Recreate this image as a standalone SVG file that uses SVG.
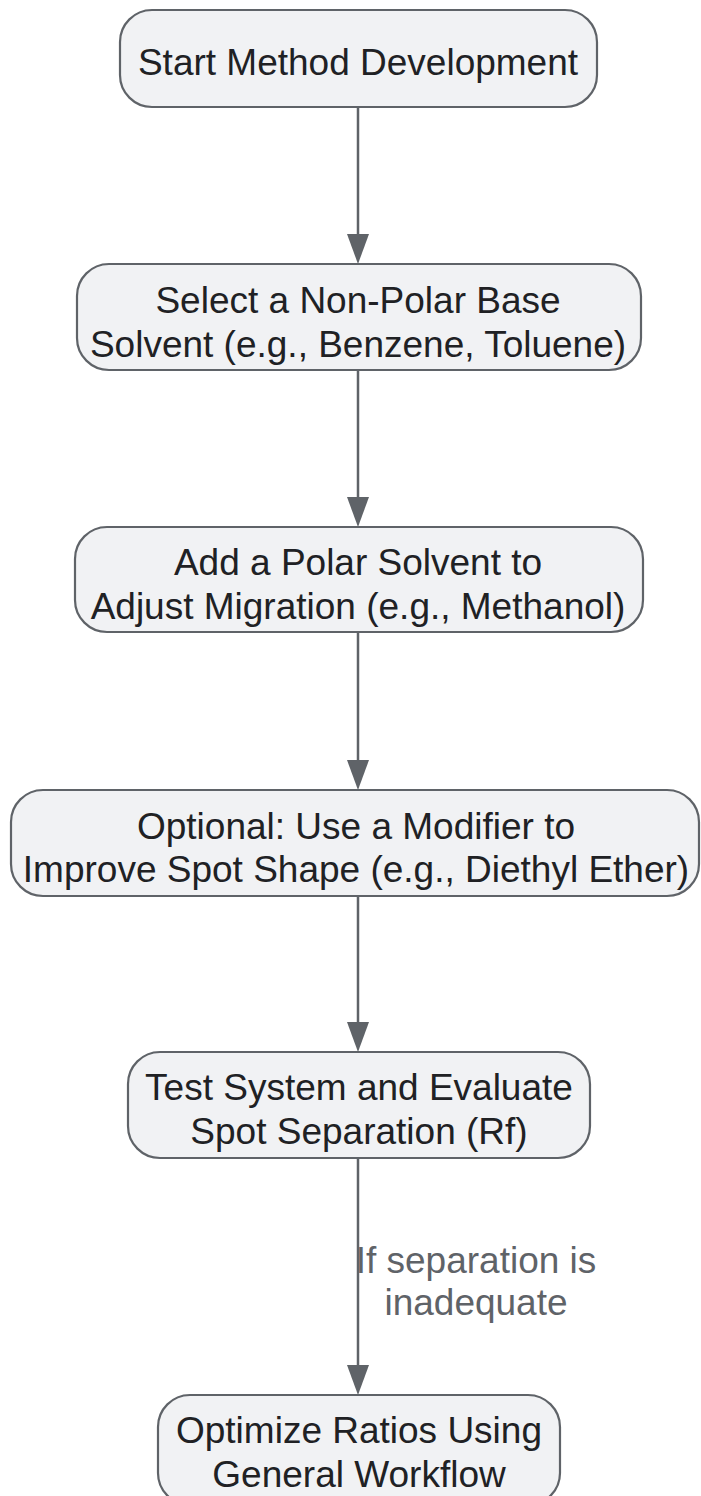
<svg xmlns="http://www.w3.org/2000/svg" width="701" height="1496" viewBox="0 0 701 1496">
<style>
.node rect{fill:#f1f2f4;stroke:#5f6368;stroke-width:2.2}
.node text{font-family:"Liberation Sans",Arial,sans-serif;font-size:37px;fill:#202124;text-anchor:middle}
.edge{stroke:#5f6368;stroke-width:2.5;fill:none}
.elabel{font-family:"Liberation Sans",Arial,sans-serif;font-size:37px;fill:#5f6368;text-anchor:middle}
</style>
<defs>
<marker id="arrow" viewBox="0 0 30 22" refX="0" refY="11" markerWidth="30" markerHeight="22" markerUnits="userSpaceOnUse" orient="auto">
<path d="M0,0 L30,11 L0,22 z" fill="#5f6368"/>
</marker>
</defs>
<g id="connectors">
<line class="edge" x1="358" y1="107" x2="358" y2="234" marker-end="url(#arrow)"/>
<line class="edge" x1="358" y1="370" x2="358" y2="497" marker-end="url(#arrow)"/>
<line class="edge" x1="358" y1="632" x2="358" y2="760" marker-end="url(#arrow)"/>
<line class="edge" x1="358" y1="896" x2="358" y2="1022" marker-end="url(#arrow)"/>
<line class="edge" x1="358" y1="1158" x2="358" y2="1365" marker-end="url(#arrow)"/>
<text class="elabel" x="476" y="1273">If separation is</text>
<text class="elabel" x="476" y="1315">inadequate</text>
</g>
<g id="node1" class="node">
<rect x="120" y="10" width="477" height="97" rx="32"/>
<text x="358" y="75">Start Method Development</text>
</g>
<g id="node2" class="node">
<rect x="77" y="264" width="564" height="106" rx="32"/>
<text x="358" y="313">Select a Non-Polar Base</text>
<text x="358" y="357">Solvent (e.g., Benzene, Toluene)</text>
</g>
<g id="node3" class="node">
<rect x="75" y="527" width="568" height="105" rx="32"/>
<text x="358" y="575">Add a Polar Solvent to</text>
<text x="358" y="619">Adjust Migration (e.g., Methanol)</text>
</g>
<g id="node4" class="node">
<rect x="11" y="790" width="688" height="106" rx="32"/>
<text x="356" y="839">Optional: Use a Modifier to</text>
<text x="356" y="882">Improve Spot Shape (e.g., Diethyl Ether)</text>
</g>
<g id="node5" class="node">
<rect x="128" y="1052" width="462" height="106" rx="32"/>
<text x="359" y="1100">Test System and Evaluate</text>
<text x="359" y="1144">Spot Separation (Rf)</text>
</g>
<g id="node6" class="node">
<rect x="158" y="1395" width="402" height="110" rx="32"/>
<text x="359" y="1443">Optimize Ratios Using</text>
<text x="359" y="1487">General Workflow</text>
</g>
</svg>
